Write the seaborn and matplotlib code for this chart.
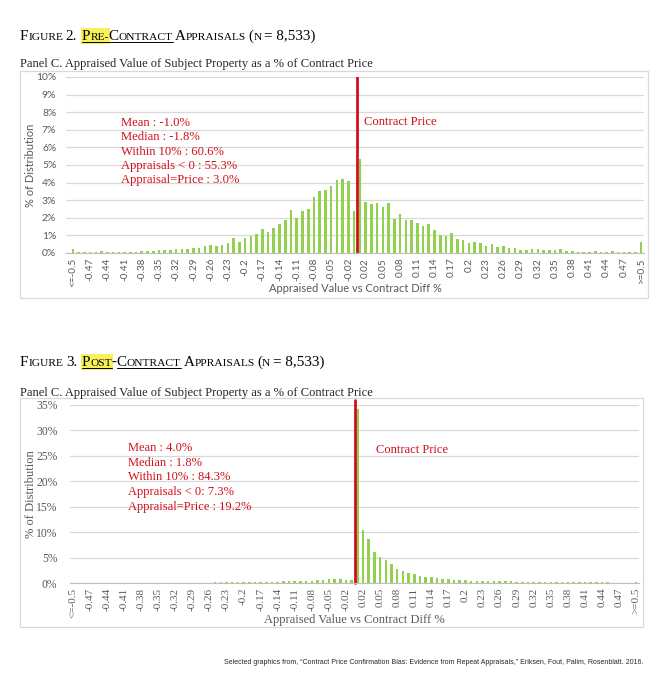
import numpy as np
import pandas as pd
import seaborn as sns
from matplotlib import pyplot as plt
from matplotlib.patches import Rectangle
from matplotlib.lines import Line2D

# bins of appraised value vs contract price (Excel category labels)
bins = ["<=-0.5", "-0.49", "-0.48", "-0.47", "-0.46", "-0.45", "-0.44", "-0.43", "-0.42", "-0.41",
        "-0.4", "-0.39", "-0.38", "-0.37", "-0.36", "-0.35", "-0.34", "-0.33", "-0.32", "-0.31",
        "-0.3", "-0.29", "-0.28", "-0.27", "-0.26", "-0.25", "-0.24", "-0.23", "-0.22", "-0.21",
        "-0.2", "-0.19", "-0.18", "-0.17", "-0.16", "-0.15", "-0.14", "-0.13", "-0.12", "-0.11",
        "-0.1", "-0.09", "-0.08", "-0.07", "-0.06", "-0.05", "-0.04", "-0.03", "-0.02", "-0.01",
        "0", "0.02", "0.03", "0.04", "0.05", "0.06", "0.07", "0.08", "0.09", "0.1",
        "0.11", "0.12", "0.13", "0.14", "0.15", "0.16", "0.17", "0.18", "0.19", "0.2",
        "0.21", "0.22", "0.23", "0.24", "0.25", "0.26", "0.27", "0.28", "0.29", "0.3",
        "0.31", "0.32", "0.33", "0.34", "0.35", "0.36", "0.37", "0.38", "0.39", "0.4",
        "0.41", "0.42", "0.43", "0.44", "0.45", "0.46", "0.47", "0.48", "0.49", ">=0.5"]

pre_pct = [0.23, 0.05, 0.04, 0.05, 0.04, 0.10, 0.08, 0.07, 0.08, 0.06,
           0.08, 0.07, 0.12, 0.13, 0.14, 0.15, 0.16, 0.18, 0.20, 0.20,
           0.24, 0.27, 0.26, 0.42, 0.43, 0.42, 0.43, 0.57, 0.85, 0.65,
           0.88, 0.97, 1.07, 1.34, 1.19, 1.44, 1.62, 1.88, 2.42, 1.99,
           2.41, 2.50, 3.16, 3.50, 3.56, 3.79, 4.13, 4.22, 4.09, 2.39,
           5.35, 2.92, 2.80, 2.84, 2.63, 2.84, 1.91, 2.22, 1.88, 1.88,
           1.70, 1.55, 1.63, 1.31, 1.04, 0.95, 1.14, 0.81, 0.76, 0.57,
           0.61, 0.57, 0.38, 0.49, 0.34, 0.42, 0.30, 0.27, 0.19, 0.15,
           0.21, 0.23, 0.17, 0.17, 0.15, 0.23, 0.11, 0.10, 0.06, 0.08,
           0.06, 0.11, 0.06, 0.06, 0.10, 0.06, 0.06, 0.04, 0.04, 0.62]

post_pct = [0.06, 0.03, 0.03, 0.04, 0.03, 0.04, 0.03, 0.04, 0.05, 0.04,
            0.05, 0.04, 0.05, 0.05, 0.06, 0.05, 0.06, 0.07, 0.06, 0.07,
            0.08, 0.07, 0.08, 0.09, 0.09, 0.10, 0.10, 0.11, 0.12, 0.13,
            0.14, 0.16, 0.17, 0.20, 0.22, 0.24, 0.27, 0.30, 0.32, 0.35,
            0.38, 0.42, 0.45, 0.50, 0.55, 0.80, 0.85, 0.80, 0.50, 0.50,
            34.2, 10.4, 8.56, 6.14, 5.16, 4.45, 3.75, 2.70, 2.45, 1.98,
            1.76, 1.44, 1.27, 1.10, 0.95, 0.85, 0.85, 0.62, 0.60, 0.52,
            0.48, 0.45, 0.44, 0.40, 0.38, 0.33, 0.30, 0.30, 0.28, 0.26,
            0.25, 0.22, 0.20, 0.20, 0.18, 0.17, 0.16, 0.15, 0.14, 0.13,
            0.12, 0.12, 0.11, 0.10, 0.10, 0.09, 0.09, 0.08, 0.08, 0.13]

pre_stats = ["Mean : -1.0%", "Median : -1.8%", "Within 10% : 60.6%",
             "Appraisals < 0 : 55.3%", "Appraisal=Price : 3.0%"]
post_stats = ["Mean : 4.0%", "Median : 1.8%", "Within 10% : 84.3%",
              "Appraisals < 0: 7.3%", "Appraisal=Price : 19.2%"]

GREEN = '#92d050'
RED = '#d0101a'
GRID = '#d9d9d9'
GRAY = '#595959'
SERIF = ['Liberation Serif', 'DejaVu Serif']
SANS = ['Lato', 'DejaVu Sans']

W, H = 668, 680

sns.set_style('white')
plt.rcParams['font.family'] = SERIF

fig = plt.figure(figsize=(W / 100, H / 100), dpi=100)


def fx(x):
    return x / W


def fy(y):
    return 1 - y / H


def frame(x0, y0, x1, y1):
    fig.add_artist(Rectangle((fx(x0), fy(y1)), (x1 - x0) / W, (y1 - y0) / H,
                             transform=fig.transFigure, fill=False, ec=GRID, lw=0.9))


def caps_title(y_base, parts):
    # small caps drawn piece by piece
    r = fig.canvas.get_renderer()
    x = 20
    for text, small, mark in parts:
        if text == ' ':
            x += 2.4
            continue
        t = fig.text(fx(x), fy(y_base), text, fontsize=8.2 if small else 10.9,
                     va='baseline', ha='left', color='black', zorder=3)
        w = t.get_window_extent(r).width
        if mark == 'hl':
            fig.add_artist(Rectangle((fx(x - 1), fy(y_base + 4)), (w + 2) / W, 16 / H,
                                     transform=fig.transFigure, color='#f8f15a', lw=0, zorder=1))
        if mark:
            fig.add_artist(Line2D([fx(x), fx(x + w)], [fy(y_base + 2), fy(y_base + 2)],
                                  transform=fig.transFigure, color='black', lw=0.7))
        x += w


def panel(ax, values, ymax, ystep, tick_font, ysize, xsize, lab_size, ytick_pad):
    sns.barplot(x=bins, y=values, order=bins, color=GREEN, saturation=1,
                width=0.45, linewidth=0, ax=ax)
    ax.set_ylim(0, ymax)
    ax.set_yticks(np.arange(0, ymax + 0.1, ystep))
    ax.set_yticklabels([f'{v:g}%' for v in np.arange(0, ymax + 0.1, ystep)],
                       family=tick_font, fontsize=ysize, color=GRAY)
    ax.set_xticks(range(len(bins)))
    ax.set_xticklabels([b if i % 3 == 0 else '' for i, b in enumerate(bins)],
                       rotation=90, family=tick_font, fontsize=xsize, color=GRAY)
    ax.grid(axis='y', color=GRID, lw=0.9)
    ax.set_axisbelow(True)
    for s in ['top', 'right', 'left']:
        ax.spines[s].set_visible(False)
    ax.spines['bottom'].set_color('#bfbfbf')
    ax.tick_params(axis='x', direction='inout', length=3, width=0.6, color='#bfbfbf', pad=2)
    ax.tick_params(axis='y', length=0, pad=ytick_pad)
    ax.set_xlabel('Appraised Value vs Contract Diff %', family=tick_font,
                  fontsize=lab_size, color=GRAY, labelpad=-3)
    ax.set_ylabel('% of Distribution', family=tick_font, fontsize=lab_size, color=GRAY)
    ax.set_facecolor('none')


# ---- Figure 2: pre-contract
caps_title(40, [('F', 0, None), ('IGURE', 1, None), (' ', 0, None), ('2.', 0, None), (' ', 0, None),
                (' ', 0, None), ('P', 0, 'hl'), ('RE-', 1, 'hl'), ('C', 0, 'ul'), ('ONTRACT', 1, 'ul'),
                (' ', 0, None), ('A', 0, None), ('PPRAISALS', 1, None), (' ', 0, None), ('(', 0, None),
                ('N', 1, None), (' ', 0, None), ('= 8,533)', 0, None)])
fig.text(fx(20), fy(67), 'Panel C. Appraised Value of Subject Property as a % of Contract Price',
         fontsize=9.0, va='baseline')
frame(20, 71, 648, 298)

ax1 = fig.add_axes([fx(66), fy(253), (644 - 66) / W, (253 - 77) / H])
panel(ax1, pre_pct, 10, 1, SANS, 7.4, 7.2, 8, 7)
ax1.set_xlim(-1.2, 99.5)
ax1.yaxis.set_label_coords(-0.052, 0.5)
ax1.axvline(49.5, ymin=0, ymax=1, color=RED, lw=2)
for i, s in enumerate(pre_stats):
    fig.text(fx(121), fy(123 + i * 14.3), s, color=RED, fontsize=9.1, va='center')
fig.text(fx(364), fy(122), 'Contract Price', color=RED, fontsize=9.1, va='center')

# ---- Figure 3: post-contract
caps_title(366, [('F', 0, None), ('IGURE', 1, None), (' ', 0, None), ('3.', 0, None), (' ', 0, None),
                 (' ', 0, None), ('P', 0, 'hl'), ('OST', 1, 'hl'), ('-', 0, None), ('C', 0, 'ul'),
                 ('ONTRACT', 1, 'ul'), (' ', 0, None), ('A', 0, None), ('PPRAISALS', 1, None),
                 (' ', 0, None), ('(', 0, None), ('N', 1, None), (' ', 0, None), ('= 8,533)', 0, None)])
fig.text(fx(20), fy(396), 'Panel C. Appraised Value of Subject Property as a % of Contract Price',
         fontsize=9.0, va='baseline')
frame(20, 398, 643, 627)

ax2 = fig.add_axes([fx(70), fy(583), (639 - 70) / W, (583 - 405) / H])
panel(ax2, post_pct, 35, 5, SERIF, 8.4, 8.0, 9.0, 9)
ax2.set_xlim(-0.5, 99.5)
ax2.yaxis.set_label_coords(-0.058, 0.5)
ax2.axvline(49.5, ymin=0, ymax=1.03, color=RED, lw=2, clip_on=False)
for i, s in enumerate(post_stats):
    fig.text(fx(128), fy(448 + i * 14.7), s, color=RED, fontsize=9.0, va='center')
fig.text(fx(376), fy(450), 'Contract Price', color=RED, fontsize=9.0, va='center')

fig.text(fx(643), fy(662),
         'Selected graphics from, \u201cContract Price Confirmation Bias: Evidence from Repeat '
         'Appraisals,\u201d Eriksen, Fout, Palim, Rosenblatt. 2016.',
         family=['Liberation Sans', 'DejaVu Sans'], fontsize=5, ha='right', va='center')

fig.savefig('out.png', dpi=100, facecolor='white')
